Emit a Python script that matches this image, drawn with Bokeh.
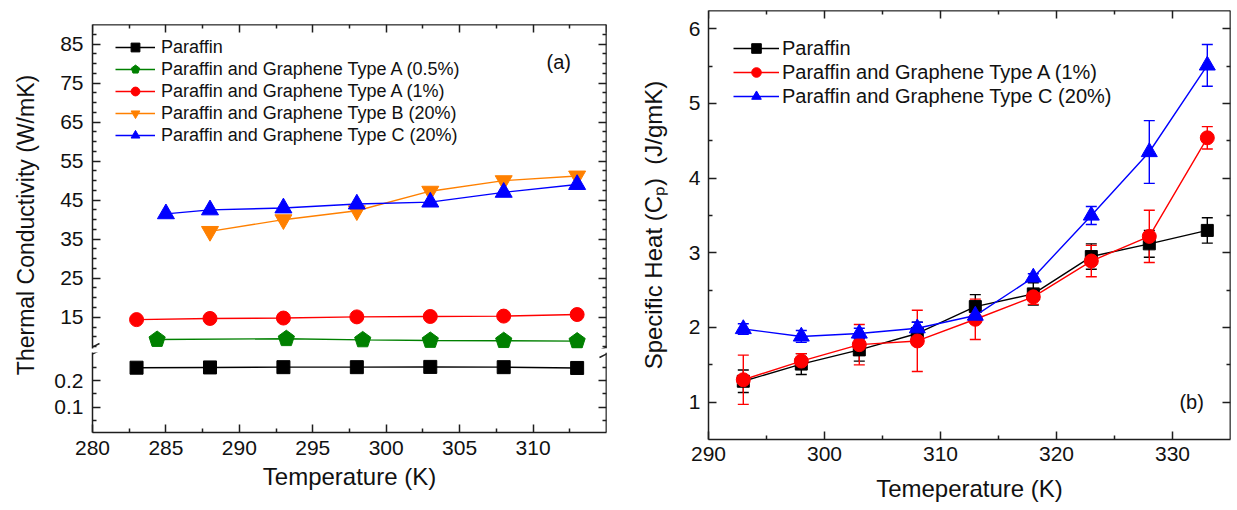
import math
from bokeh.plotting import figure
from bokeh.models import (Range1d, LinearAxis, FixedTicker, Legend, LegendItem, Label,
                          Whisker, TeeHead, ColumnDataSource, Arrow)
from bokeh.layouts import row, column
from bokeh.embed import file_html
from bokeh.resources import INLINE

# ---------------- data: panel (a) thermal conductivity ----------------
T_par_a = [283, 288, 293, 298, 303, 308, 313]
k_par = [0.248, 0.249, 0.250, 0.250, 0.251, 0.250, 0.247]
T_A05 = [284.4, 293.2, 298.4, 303.0, 308.0, 313.0]
k_A05 = [9.3, 9.5, 9.2, 9.05, 9.0, 8.9]
T_A1_a = [283, 288, 293, 298, 303, 308, 313]
k_A1 = [14.4, 14.7, 14.8, 15.1, 15.2, 15.3, 15.7]
T_B = [288, 293, 298, 303, 308, 313]
k_B = [37.0, 40.0, 42.3, 47.3, 50.0, 51.2]
T_C_a = [285, 288, 293, 298, 303, 308, 313]
k_C = [41.5, 42.5, 43.0, 44.0, 44.5, 47.0, 49.0]

labels_a = ["Paraffin",
            "Paraffin and Graphene Type A (0.5%)",
            "Paraffin and Graphene Type A (1%)",
            "Paraffin and Graphene Type B (20%)",
            "Paraffin and Graphene Type C (20%)"]

ticks_a_x = [280, 285, 290, 295, 300, 305, 310]
ticks_a_y_up = [15, 25, 35, 45, 55, 65, 75, 85]
ticks_a_y_low = [0.1, 0.2]

# ---------------- data: panel (b) specific heat ----------------
T_b = [293, 298, 303, 308, 313, 318, 323, 328, 333]
cp_par = [1.28, 1.51, 1.70, 1.92, 2.28, 2.45, 2.95, 3.12, 3.30]
cp_par_err = [0.15, 0.14, 0.15, 0.15, 0.16, 0.15, 0.17, 0.18, 0.17]
cp_A1 = [1.30, 1.55, 1.77, 1.82, 2.11, 2.41, 2.89, 3.22, 4.54]
cp_A1_err = [0.33, 0.10, 0.27, 0.41, 0.27, 0.10, 0.21, 0.35, 0.15]
cp_C = [1.98, 1.88, 1.92, 1.99, 2.16, 2.67, 3.50, 4.35, 5.51]
cp_C_err = [0.07, 0.08, 0.07, 0.08, 0.08, 0.05, 0.12, 0.42, 0.28]

labels_b = ["Paraffin",
            "Paraffin and Graphene Type A (1%)",
            "Paraffin and Graphene Type C (20%)"]

ticks_b_x = [290, 300, 310, 320, 330]
ticks_b_y = [1, 2, 3, 4, 5, 6]

# ---------------- styling ----------------
BG = "#ffffff"
AX = "#1e1e1e"
TXT = "#111111"
FONT = "Liberation Sans"
C_BLACK, C_GREEN, C_RED, C_ORANGE, C_BLUE = "#000000", "#008000", "#ff0000", "#ff8000", "#0000ff"


def style_axis(ax, size="21px", standoff=8):
    ax.major_tick_in = 8
    ax.major_tick_out = 0
    ax.minor_tick_in = 4
    ax.minor_tick_out = 0
    ax.axis_line_color = AX
    ax.axis_line_width = 1.5
    ax.major_tick_line_color = AX
    ax.major_tick_line_width = 1.5
    ax.minor_tick_line_color = AX
    ax.minor_tick_line_width = 1.5
    ax.major_label_text_font = FONT
    ax.major_label_text_font_size = size
    ax.major_label_text_color = TXT
    ax.major_label_standoff = standoff
    ax.axis_label_text_font = FONT
    ax.axis_label_text_font_style = "normal"
    ax.axis_label_text_color = TXT
    ax.axis_label_text_font_size = "24px"
    return ax


def tick_only(p, side, majors, minors, loc):
    # label-free axes (ticks pointing inward) on the top / right edges
    for pos, ln in ((majors, 8), (minors, 4)):
        ax = LinearAxis(ticker=FixedTicker(ticks=[], minor_ticks=list(pos)), fixed_location=loc)
        ax.major_tick_in = 0
        ax.major_tick_out = 0
        ax.minor_tick_in = ln
        ax.minor_tick_out = 0
        ax.axis_line_color = AX
        ax.axis_line_width = 1.5
        ax.minor_tick_line_color = AX
        ax.minor_tick_line_width = 1.5
        p.add_layout(ax, side)


def base_fig(w, h, xr, yr, l, r, t, b):
    p = figure(width=w, height=h, x_range=xr, y_range=yr,
               min_border_left=l, min_border_right=r, min_border_top=t, min_border_bottom=b,
               toolbar_location=None, output_backend="svg",
               x_axis_location=None, y_axis_location=None,
               background_fill_color=BG, border_fill_color=BG, outline_line_color=None)
    p.grid.visible = False
    return p


def series(p, x, y, color, marker, size):
    src = ColumnDataSource(dict(x=x, y=y))
    lr = p.line("x", "y", source=src, line_color=color, line_width=1.4)
    if marker == "pentagon":
        try:
            mr = p.ngon("x", "y", source=src, radius=size / 2, radius_units="screen", n=5,
                        fill_color=color, line_color=color)
        except Exception:
            mr = p.scatter("x", "y", source=src, marker="hex", size=size,
                           fill_color=color, line_color=color)
    else:
        mr = p.scatter("x", "y", source=src, marker=marker, size=size,
                       fill_color=color, line_color=color)
    return [lr, mr]


def add_break(p, xr, yr, fw, fh, edge):
    ux = (xr.end - xr.start) / fw
    uy = (yr.end - yr.start) / fh
    for xe in (xr.start, xr.end):
        if edge == "bottom":
            y0, y1 = yr.start - 2 * uy, yr.start + 5 * uy
        else:
            y0, y1 = yr.end - 5 * uy, yr.end + 2 * uy
        p.add_layout(Arrow(end=None, x_start=xe - 7 * ux, y_start=y0,
                           x_end=xe + 7 * ux, y_end=y1, line_color=AX, line_width=1.5))


# ---------------- panel (a) ----------------
W_T, W_COL, W_B = 40, 596, 601
xr_a = Range1d(280, 315)
yr_up = Range1d(7, 90)
yr_low = Range1d(0.005, 0.305)

x_major_a_all = [280 + 5 * i for i in range(8)]
x_minor_a = [282.5 + 5 * i for i in range(7)]
y_minor_up = [v for v in [7.5 + 2.5 * i for i in range(33)] if v % 10 != 5]
y_minor_low = [0.05, 0.15, 0.25]
xt_a = FixedTicker(ticks=ticks_a_x, minor_ticks=x_minor_a)
yt_up = FixedTicker(ticks=ticks_a_y_up, minor_ticks=y_minor_up)
yt_low = FixedTicker(ticks=ticks_a_y_low, minor_ticks=y_minor_low)

pu = base_fig(W_COL, 350, xr_a, yr_up, 52, 30, 24, 2)
pu.add_layout(style_axis(LinearAxis(ticker=yt_up), "21px", 9), "left")
tick_only(pu, "right", ticks_a_y_up, y_minor_up, xr_a.end)
tick_only(pu, "above", x_major_a_all, x_minor_a, yr_up.end)

pl = base_fig(W_COL, 160, xr_a, yr_low, 52, 30, 2, 78)
pl.add_layout(style_axis(LinearAxis(ticker=yt_low), "21px", 9), "left")
tick_only(pl, "right", ticks_a_y_low, y_minor_low, xr_a.end)
xax_a = style_axis(LinearAxis(ticker=xt_a), "21px", 8)
xax_a.axis_label = "Temperature (K)"
xax_a.axis_label_standoff = 5
pl.add_layout(xax_a, "below")

# paraffin: visible in the lower segment; same data in upper (out of view) feeds the legend
series(pl, T_par_a, k_par, C_BLACK, "square", 13)
r_par_leg = series(pu, T_par_a, k_par, C_BLACK, "square", 13)
r_a05 = series(pu, T_A05, k_A05, C_GREEN, "pentagon", 17)
r_a1 = series(pu, T_A1_a, k_A1, C_RED, "circle", 14)
r_b = series(pu, T_B, k_B, C_ORANGE, "inverted_triangle", 17)
r_c = series(pu, T_C_a, k_C, C_BLUE, "triangle", 17)

leg_a = Legend(items=[LegendItem(label=lab, renderers=rr) for lab, rr in
                      zip(labels_a, [r_par_leg, r_a05, r_a1, r_b, r_c])],
               location=(23, 202), glyph_width=40, glyph_height=22, label_height=22,
               spacing=0, padding=0, margin=0, label_standoff=6,
               background_fill_alpha=0, border_line_color=None,
               label_text_font=FONT, label_text_font_size="18px", label_text_color=TXT)
pu.add_layout(leg_a)
pu.add_layout(Label(x=311.75, y=80.3, text="(a)", text_align="center", text_baseline="middle",
                    text_font=FONT, text_font_size="20px", text_color=TXT))

add_break(pu, xr_a, yr_up, 514, 324, "bottom")
add_break(pl, xr_a, yr_low, 514, 80, "top")

# y title for the broken axis: axis label of a slim strip whose frame is centred on it
pt = figure(width=W_T, height=510, x_range=Range1d(0, 1), y_range=Range1d(0, 1),
            min_border_left=38, min_border_right=0, min_border_top=0, min_border_bottom=55,
            toolbar_location=None, output_backend="svg",
            x_axis_location=None, y_axis_location=None,
            background_fill_color=BG, border_fill_color=BG, outline_line_color=None)
pt.grid.visible = False
ax_t = LinearAxis(ticker=FixedTicker(ticks=[]), axis_label="Thermal Conductivity (W/mK)")
ax_t.axis_line_color = None
ax_t.major_tick_in = 0
ax_t.major_tick_out = 0
ax_t.minor_tick_in = 0
ax_t.minor_tick_out = 0
ax_t.major_label_standoff = 0
ax_t.axis_label_standoff = 0
ax_t.axis_label_text_font = FONT
ax_t.axis_label_text_font_style = "normal"
ax_t.axis_label_text_font_size = "23px"
ax_t.axis_label_text_color = TXT
pt.add_layout(ax_t, "left")

# ---------------- panel (b) ----------------
xr_b = Range1d(290, 335)
yr_b = Range1d(0.5, 6.245)
x_minor_b = [295, 305, 315, 325]
y_minor_b = [1.5, 2.5, 3.5, 4.5, 5.5]
xt_b = FixedTicker(ticks=ticks_b_x, minor_ticks=x_minor_b)
yt_b = FixedTicker(ticks=ticks_b_y, minor_ticks=y_minor_b)

pb = base_fig(W_B, 510, xr_b, yr_b, 67, 7, 10, 71)
yax_b = style_axis(LinearAxis(ticker=yt_b), "21px", 8)
yax_b.axis_label = "Specific Heat (C\u209a)\u00a0 (J/gmK)"
yax_b.axis_label_standoff = 19
pb.add_layout(yax_b, "left")
tick_only(pb, "right", ticks_b_y, y_minor_b, xr_b.end)
xax_b = style_axis(LinearAxis(ticker=xt_b), "21px", 7)
xax_b.axis_label = "Temeperature (K)"
xax_b.axis_label_standoff = 11
pb.add_layout(xax_b, "below")
tick_only(pb, "above", ticks_b_x, x_minor_b, yr_b.end)

items_b = []
for vals, errs, color, marker, size in [(cp_par, cp_par_err, C_BLACK, "square", 12),
                                        (cp_A1, cp_A1_err, C_RED, "circle", 14),
                                        (cp_C, cp_C_err, C_BLUE, "triangle", 16)]:
    esrc = ColumnDataSource(dict(x=T_b, upper=[v + e for v, e in zip(vals, errs)],
                                 lower=[v - e for v, e in zip(vals, errs)]))
    pb.add_layout(Whisker(source=esrc, base="x", upper="upper", lower="lower",
                          line_color=color, line_width=1.4,
                          upper_head=TeeHead(size=11, line_color=color, line_width=1.4),
                          lower_head=TeeHead(size=11, line_color=color, line_width=1.4)))
    items_b.append(series(pb, T_b, vals, color, marker, size))

leg_b = Legend(items=[LegendItem(label=lab, renderers=rr) for lab, rr in zip(labels_b, items_b)],
               location=(25, 331), glyph_width=46, glyph_height=24, label_height=24,
               spacing=0, padding=0, margin=0, label_standoff=3,
               background_fill_alpha=0, border_line_color=None,
               label_text_font=FONT, label_text_font_size="20px", label_text_color=TXT)
pb.add_layout(leg_b)
pb.add_layout(Label(x=331.65, y=1.0, text="(b)", text_align="center", text_baseline="middle",
                    text_font=FONT, text_font_size="20px", text_color=TXT))

layout = row(pt, column(pu, pl), pb)
open("out.html", "w").write(file_html(layout, INLINE))
